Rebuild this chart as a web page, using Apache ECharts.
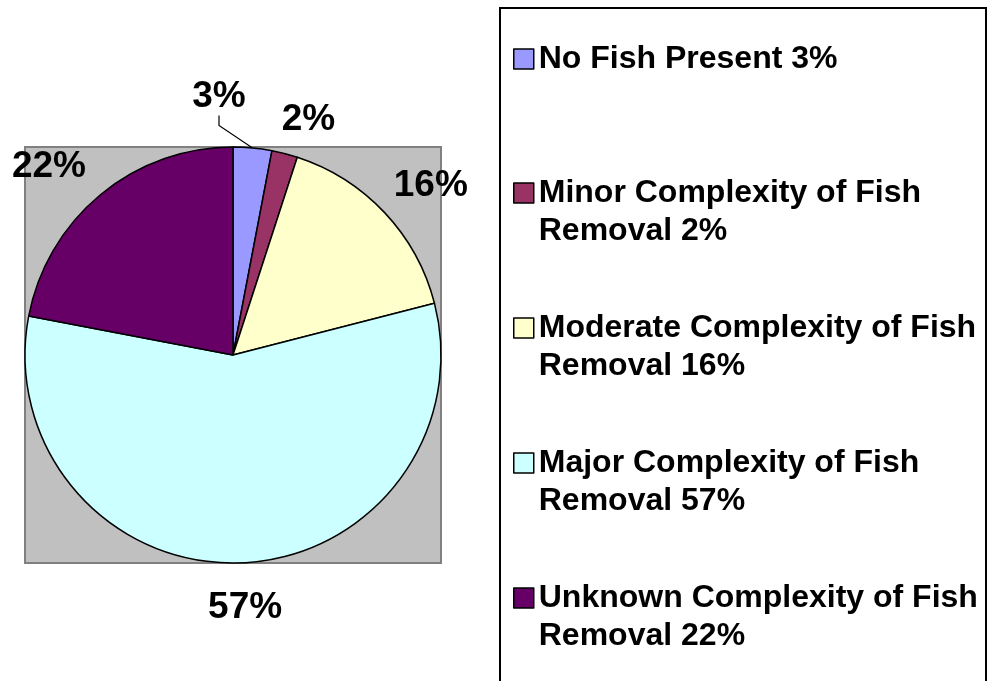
<!DOCTYPE html>
<html>
<head>
<meta charset="utf-8">
<script src="https://cdn.jsdelivr.net/npm/echarts@6/dist/echarts.min.js"></script>
<style>
  html, body { margin: 0; padding: 0; background: #fff; }
  #chart { width: 987px; height: 681px; }
</style>
</head>
<body>
<div id="chart"></div>
<script>
// 数据
const categories = [
  'No Fish Present',
  'Minor Complexity of Fish Removal',
  'Moderate Complexity of Fish Removal',
  'Major Complexity of Fish Removal',
  'Unknown Complexity of Fish Removal'
];
const values = [3, 2, 16, 57, 22];
const colors = ['#9999FF', '#993366', '#FFFFCC', '#CCFFFF', '#660066'];
// 标签微调（像素）
const labelNudge = [[0, 0], [11, 16], [9, 8], [4, -6], [-19, 11]];

const FONT = '"Liberation Sans", Arial, sans-serif';
const CENTER = [233, 355];

// 图例文字：在 "Removal" 前换行；多行时前面加一空行，让首行与图标对齐
function legendText(name) {
  const i = categories.indexOf(name);
  const txt = name.replace(' Removal', '\nRemoval') + ' ' + values[i] + '%';
  return txt.indexOf('\n') >= 0 ? '\u00a0\n' + txt : txt;
}

const chart = echarts.init(document.getElementById('chart'), null, { renderer: 'canvas' });

const pieData = categories.map((name, i) => ({
  name,
  value: values[i],
  itemStyle: { color: colors[i] },
  label: { show: i === 0 },
  labelLine: { show: i === 0 }
}));

// 标签辅助层（透明）
const labelData = categories.map((name, i) => ({
  name,
  value: values[i],
  label: { show: i !== 0, offset: labelNudge[i] }
}));

// 每个图例单独一个组件，方便定位
const legendTops = [40, 136, 271, 406, 541];
const legends = categories.map((name, i) => ({
  data: [name],
  orient: 'vertical',
  left: 513,
  top: legendTops[i],
  padding: 0,
  itemWidth: 20,
  itemHeight: 20,
  icon: 'rect',
  selectedMode: false,
  formatter: legendText,
  itemStyle: { borderColor: '#000', borderWidth: 1.5 },
  textStyle: {
    fontFamily: FONT,
    fontWeight: 'bold',
    fontSize: 32,
    color: '#000',
    lineHeight: 38
  }
}));

const option = {
  backgroundColor: '#fff',
  animation: false,
  legend: legends,
  graphic: [
    {
      type: 'rect',
      z: 0,
      shape: { x: 25, y: 147, width: 416, height: 416 },
      style: { fill: '#C0C0C0', stroke: '#808080', lineWidth: 2 }
    },
    {
      type: 'rect',
      z: 0,
      shape: { x: 500, y: 8, width: 486, height: 700 },
      style: { fill: 'transparent', stroke: '#000', lineWidth: 2 }
    }
  ],
  series: [
    {
      type: 'pie',
      z: 3,
      center: CENTER,
      radius: 208,
      startAngle: 90,
      clockwise: true,
      silent: true,
      avoidLabelOverlap: false,
      data: pieData,
      itemStyle: { borderColor: '#000', borderWidth: 1.5 },
      label: {
        position: 'outside',
        formatter: '{c}%',
        fontFamily: FONT,
        fontWeight: 'bold',
        fontSize: 37,
        color: '#000'
      },
      labelLine: {
        length: 10,
        length2: 10,
        lineStyle: { color: '#000', width: 1.2 }
      },
      labelLayout: (p) => p.dataIndex === 0
        ? { x: 219, y: 97, align: 'center', verticalAlign: 'middle' }
        : {},
      emphasis: { disabled: true }
    },
    {
      type: 'pie',
      z: 4,
      center: CENTER,
      radius: [0, 512],
      startAngle: 90,
      clockwise: true,
      silent: true,
      data: labelData,
      itemStyle: { color: 'rgba(0,0,0,0)', borderWidth: 0 },
      label: {
        position: 'inside',
        formatter: '{c}%',
        fontFamily: FONT,
        fontWeight: 'bold',
        fontSize: 37,
        color: '#000',
        textBorderWidth: 0
      },
      labelLine: { show: false },
      emphasis: { disabled: true }
    }
  ]
};

chart.setOption(option);
</script>
</body>
</html>
